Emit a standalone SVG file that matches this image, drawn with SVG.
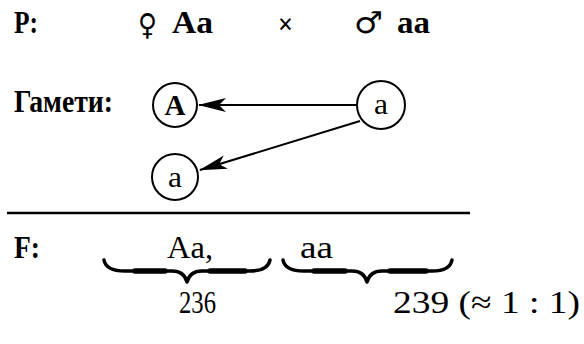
<svg xmlns="http://www.w3.org/2000/svg" width="584" height="344" viewBox="0 0 584 344">
<defs>
<style>
text{font-family:"Liberation Serif","Times New Roman",serif;fill:#000}
.b{font-weight:bold}
.t{font-size:32px}
.s{font-family:"DejaVu Sans",sans-serif}
.c{fill:#fff;stroke:#000;stroke-width:2}
.ln{stroke:#000;stroke-width:2;fill:none}
.br{fill:none;stroke:#000;stroke-width:3.5;stroke-linecap:round;stroke-linejoin:round}
.bm{fill:none;stroke:#000;stroke-width:5.5;stroke-linecap:round}
.cl{font-size:30px}
</style>
<marker id="ah" markerWidth="28" markerHeight="14" refX="27" refY="7" orient="auto" markerUnits="userSpaceOnUse">
<path d="M28,7 L0,0 L7,7 L0,14 Z" fill="#000"/>
</marker>
</defs>
<rect width="584" height="344" fill="#fff"/>
<g id="parents">
<text class="t b" x="14" y="33" textLength="24" lengthAdjust="spacingAndGlyphs">P:</text>
<text class="s" x="138" y="35" font-size="30" textLength="19" lengthAdjust="spacingAndGlyphs">♀</text>
<text class="t b" x="172" y="33" textLength="41" lengthAdjust="spacingAndGlyphs">Aa</text>
<text class="b" x="278" y="34" font-size="30" textLength="15" lengthAdjust="spacingAndGlyphs">×</text>
<text class="s" x="354" y="33" font-size="30" textLength="29" lengthAdjust="spacingAndGlyphs">♂</text>
<text class="t b" x="397" y="33" textLength="33" lengthAdjust="spacingAndGlyphs">aa</text>
</g>
<g id="gametes-label">
<text class="t b" x="14" y="112" textLength="99" lengthAdjust="spacingAndGlyphs">Гамети:</text>
</g>
<g id="gamete-A">
<circle class="c" cx="175" cy="105" r="22"/>
<text class="b cl" x="175" y="115" text-anchor="middle" textLength="21" lengthAdjust="spacingAndGlyphs">A</text>
</g>
<g id="gamete-a-right">
<circle class="c" cx="381" cy="105" r="24"/>
<text class="cl" x="381" y="114" text-anchor="middle" textLength="14" lengthAdjust="spacingAndGlyphs">a</text>
</g>
<g id="gamete-a-bottom">
<circle class="c" cx="175" cy="177" r="23"/>
<text class="cl" x="175" y="187" text-anchor="middle" textLength="14" lengthAdjust="spacingAndGlyphs">a</text>
</g>
<g id="connectors">
<line class="ln" x1="357" y1="105" x2="199" y2="105" marker-end="url(#ah)"/>
<line class="ln" x1="360" y1="121" x2="200" y2="170" marker-end="url(#ah)"/>
</g>
<line x1="7" y1="213" x2="470" y2="213" stroke="#000" stroke-width="2.5"/>
<g id="offspring">
<text class="t b" x="14" y="258" textLength="26" lengthAdjust="spacingAndGlyphs">F:</text>
<text class="t" x="167" y="258" textLength="46" lengthAdjust="spacingAndGlyphs">Aa,</text>
<text class="t" x="300" y="258" textLength="33" lengthAdjust="spacingAndGlyphs">aa</text>
<path class="br" d="M104,260 Q106,271 125,271 L172,271 Q184,271 187,282 Q190,271 202,271 L250,271 Q268,271 270,260"/>
<path class="bm" d="M135,271 L165,271 M210,271 L245,271"/>
<path class="br" d="M283,260 Q285,271 304,271 L352,271 Q364,271 367,282 Q370,271 382,271 L432,271 Q450,271 452,260"/>
<path class="bm" d="M314,271 L345,271 M390,271 L426,271"/>
<text class="t" x="179" y="313" textLength="37" lengthAdjust="spacingAndGlyphs">236</text>
<text class="t" x="393" y="313" textLength="187" lengthAdjust="spacingAndGlyphs">239  (≈ 1 : 1)</text>
</g>
</svg>
